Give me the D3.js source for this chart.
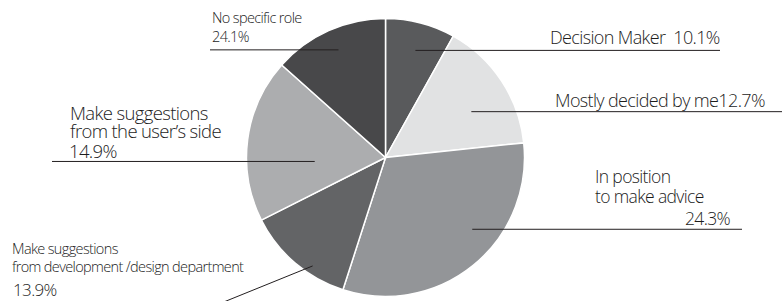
<!DOCTYPE html>
<html>
<head>
<meta charset="utf-8">
<script src="https://cdn.jsdelivr.net/npm/d3@7"></script>
<style>
  body { margin: 0; background: #fff; }
  svg text { font-family: 'Open Sans', sans-serif; font-weight: 300; fill: #1c1c1c; white-space: pre; }
</style>
</head>
<body>
<svg id="chart" width="782" height="301"></svg>
<script>
// roles, clockwise from 12 o'clock
const roles = ['Decision Maker', 'Mostly decided by me', 'In position to make advice',
  'Make suggestions from development /design department', 'Make suggestions from the user\u2019s side', 'No specific role']
// printed percentages
const pctLabels = ['10.1%', '12.7%', '24.3%', '13.9%', '14.9%', '24.1%']
// slice shares as drawn in the picture (measured angles)
const shares = [8.1, 15.2, 31.6, 12.6, 19.0, 13.4]
const fills = ['#595a5c', '#e1e2e3', '#939598', '#636466', '#acadaf', '#48484a']

const svg = d3.select('#chart')
const cx = 385.5
const cy = 157.5
const r = 139

const pie = d3.pie().sort(null).value(d => d)
const arcs = pie(shares)
const arc = d3.arc().innerRadius(0).outerRadius(r)

const g = svg.append('g').attr('transform', `translate(${cx},${cy})`)
g.selectAll('path')
  .data(arcs)
  .join('path')
  .attr('d', arc)
  .attr('fill', (d, i) => fills[i])
  .attr('stroke', '#fff')
  .attr('stroke-width', 1.5)

// label layout: leader start (angle in degrees, radius fraction), line end, text lines
const layout = [
  { a: 15.6, k: 0.80, x2: 720, lines: [{ t: 'Decision Maker  ' + pctLabels[0], x: 550, dy: -6, size: 18 }] },
  { a: 61.9, k: 0.70, x2: 782, lines: [{ t: 'Mostly decided by me' + pctLabels[1], x: 555, dy: -5, size: 18 }] },
  { a: 129.6, k: 0.81, x2: 742, lines: [
    { t: 'In position', x: 595, dy: -46, size: 17.5 },
    { t: 'to make advice', x: 595, dy: -26, size: 17.5 },
    { t: pctLabels[2], x: 730, dy: -4, size: 17.5, anchor: 'end' }] },
  { a: 213.9, k: 0.94, x2: null, lines: [
    { t: 'Make suggestions', x: 12, size: 14.5, abs: 254 },
    { t: 'from development /design department', x: 12, size: 14.5, abs: 272 },
    { t: pctLabels[3], x: 13, size: 17, abs: 296 }] },
  { a: 266.8, k: 0.51, x2: 52, lines: [
    { t: 'Make suggestions', x: 70, dy: -41, size: 18.5 },
    { t: 'from the user\u2019s side', x: 70, dy: -23, size: 18.5 },
    { t: pctLabels[4], x: 69, dy: -3, size: 18.5 }] },
  { a: 336.4, k: 0.845, x2: 210, lines: [
    { t: 'No specific role', x: 212, dy: -27, size: 14.5 },
    { t: pctLabels[5], x: 212, dy: -8, size: 14.5 }] }
]

layout.forEach((L, i) => {
  const ang = L.a * Math.PI / 180
  const x1 = cx + Math.sin(ang) * r * L.k
  const y1 = cy - Math.cos(ang) * r * L.k
  if (L.x2 !== null) {
    svg.append('line')
      .attr('x1', x1).attr('y1', y1)
      .attr('x2', L.x2).attr('y2', y1)
      .attr('stroke', '#231f20').attr('stroke-width', 1)
  } else {
    // slanted leader down to the bottom edge
    svg.append('line')
      .attr('x1', x1).attr('y1', y1)
      .attr('x2', x1 - 90).attr('y2', y1 + 36.5)
      .attr('stroke', '#231f20').attr('stroke-width', 1)
  }
  // one text element per label, one tspan per line
  const label = svg.append('text').style('letter-spacing', '-0.04em')
  L.lines.forEach(ln => {
    label.append('tspan')
      .attr('x', ln.x)
      .attr('y', ln.abs !== undefined ? ln.abs : y1 + ln.dy)
      .attr('text-anchor', ln.anchor || 'start')
      .style('font-size', ln.size + 'px')
      .text(ln.t)
  })
})
</script>
</body>
</html>
